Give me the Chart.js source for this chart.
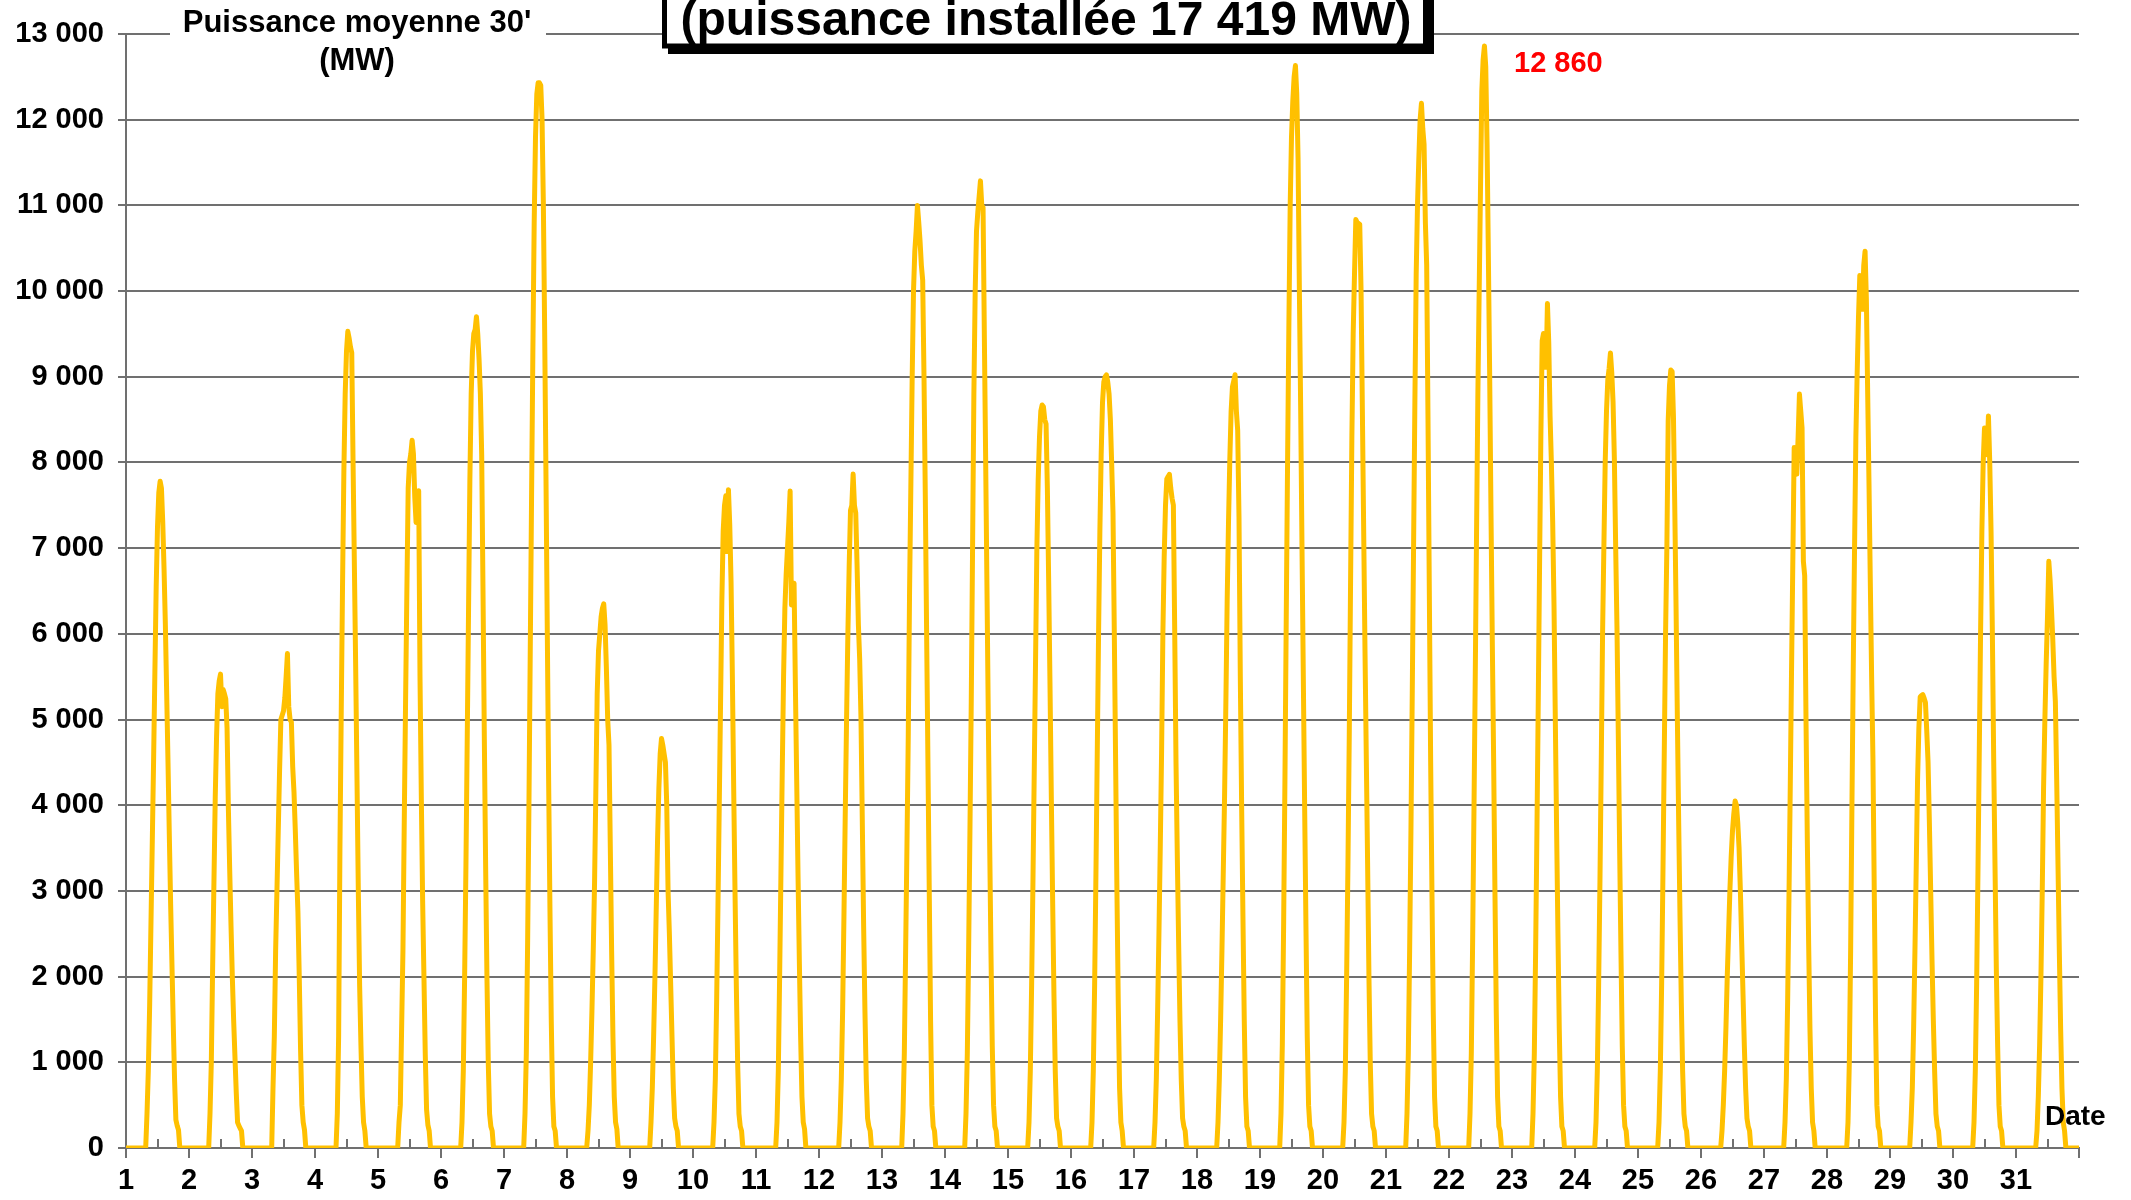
<!DOCTYPE html>
<html>
<head>
<meta charset="utf-8">
<script src="https://cdn.jsdelivr.net/npm/chart.js@4.4.0/dist/chart.umd.min.js"></script>
<style>
  html, body { margin: 0; padding: 0; background: #fff; }
  canvas { display: block; }
</style>
</head>
<body>
<canvas id="myChart" width="2131" height="1200"></canvas>
<script>
// half-hour time slots (hours) covered by each day's profile
const slotHours = [7, 7.5, 8, 8.5, 9, 9.5, 10, 10.5, 11, 11.5, 12, 12.5, 13, 13.5, 14,
  14.5, 15, 15.5, 16, 16.5, 17, 17.5, 18, 18.5, 19, 19.5, 20, 20.5, 21];

const dayNumbers = [1, 2, 3, 4, 5, 6, 7, 8, 9, 10, 11, 12, 13, 14, 15, 16,
  17, 18, 19, 20, 21, 22, 23, 24, 25, 26, 27, 28, 29, 30, 31];

// average 30' power (MW) per day, one value per slot above
const powerByDay = [
  [0,0,400,900,1650,2600,3550,4500,5550,6550,7250,7650,7780,7700,7300,6750,6100,5300,4500,3650,2850,2150,1450,800,330,260,210,0,0],
  [0,0,400,1000,2100,3100,4100,4800,5300,5450,5530,5150,5350,5300,5240,4900,3960,3250,2600,2000,1500,1070,650,300,260,230,200,0,0],
  [0,0,700,1300,2300,3000,3700,4400,5000,5050,5100,5250,5500,5770,5150,5000,4970,4450,4150,3700,3200,2750,2000,1150,500,300,210,0,0],
  [0,0,0,400,1300,3500,5100,6600,7900,8800,9300,9530,9450,9350,9280,8000,6800,5600,4300,3000,1900,1200,600,300,200,0,0,0,0],
  [0,0,300,500,1400,2300,3800,5200,6500,7700,8000,8100,8260,8100,7600,7300,7500,7670,5500,4100,2890,2000,1100,450,270,200,0,0,0],
  [0,0,300,900,2000,3300,4800,6300,7800,8800,9300,9505,9550,9700,9500,9200,8800,8090,6500,4800,3300,2000,1000,400,250,200,0,0,0],
  [0,0,400,1100,2400,4000,5800,7600,9300,10800,11800,12300,12430,12430,12400,12000,11000,9500,7800,6000,4300,2800,1500,600,250,200,0,0,0],
  [0,0,200,500,1000,1600,2300,3100,4200,5300,5800,6000,6200,6300,6350,6100,5600,5000,4700,3500,2300,1300,600,300,220,0,0,0,0],
  [0,0,300,700,1300,2000,2800,3600,4200,4600,4780,4700,4600,4500,4000,3000,2500,1900,1300,700,350,250,200,0,0,0,0,0,0],
  [0,0,300,800,1700,2800,4000,5200,6400,7200,7500,7610,6960,7683,7270,6600,5500,4200,3000,1900,1000,400,250,200,0,0,0,0,0],
  [0,0,300,900,2000,3200,4400,5500,6300,6700,7000,7300,7667,6337,6450,6590,5400,4300,3200,2200,1300,600,300,220,0,0,0,0,0],
  [0,0,300,800,1600,2700,3900,5000,6000,6800,7440,7500,7865,7500,7410,6800,6110,5700,5000,3800,2600,1600,800,350,250,200,0,0,0],
  [0,0,400,1100,2300,3500,4800,6500,7750,9000,10000,10466,10700,11000,10800,10580,10300,10127,9000,7600,6000,4500,3000,1500,500,250,200,0,0],
  [0,0,400,1100,2300,3700,5200,7000,8800,10000,10700,10920,11100,11286,11000,10975,9450,8000,6500,5000,3600,2300,1200,500,250,200,0,0,0],
  [0,0,300,900,1900,3100,4400,5700,7000,7800,8300,8600,8670,8650,8500,8450,7695,6600,5400,4100,2900,1800,900,350,250,200,0,0,0],
  [0,0,300,900,1900,3200,4600,6000,7200,8100,8700,8940,9000,9022,8940,8800,8500,7977,7410,6000,4500,3000,1700,700,300,200,0,0,0],
  [0,0,300,800,1600,2500,3500,4600,6000,6900,7500,7808,7836,7860,7700,7581,7500,6055,4500,3400,2400,1500,800,350,250,200,0,0,0],
  [0,0,300,800,1500,2300,3200,4100,5200,6400,7300,8034,8600,8882,8950,9024,8600,8373,7355,5500,4000,2700,1500,600,250,200,0,0,0],
  [0,0,400,1200,2600,4300,6200,8000,9600,11000,11800,12220,12500,12632,12300,11540,10010,8600,7000,5500,4000,2600,1300,500,250,200,0,0,0],
  [0,0,300,900,2000,3300,4800,6600,8300,9505,10200,10834,10800,10790,10777,10000,8600,7200,5800,4540,3300,2000,1000,400,250,200,0,0,0],
  [0,0,400,1100,2300,3700,5300,7000,8700,10200,11000,11540,12000,12191,11900,11710,10800,10300,8500,6500,4540,3000,1600,600,250,200,0,0,0],
  [0,0,400,1100,2400,3900,5500,7200,8800,10013,11200,12333,12700,12860,12615,11710,10400,9000,7400,5900,4540,3000,1600,600,250,200,0,0,0],
  [0,0,400,1100,2300,3700,5200,6800,8317,9420,9505,9400,9110,9855,9400,8543,8000,7300,6337,5000,3700,2500,1400,600,250,200,0,0,0],
  [0,0,300,900,1900,3100,4500,6000,7015,8000,8600,8967,9100,9278,9052,8700,8034,7000,6055,4800,3500,2300,1200,500,250,200,0,0,0],
  [0,0,300,900,1900,3200,4600,6000,7015,8486,8900,9080,9060,8543,7500,6300,5000,3800,2700,1700,900,400,250,200,0,0,0,0,0],
  [0,0,200,500,900,1400,2000,2500,3000,3400,3700,3900,4050,4000,3800,3500,3000,2400,1800,1200,700,350,250,200,0,0,0,0,0],
  [0,0,300,800,1700,2900,4200,5600,6900,8175,8000,7864,8300,8798,8600,8401,6846,6677,5000,3600,2400,1400,700,300,200,0,0,0,0],
  [0,0,300,1000,2300,4000,5600,7015,8300,9052,9700,10183,10000,9787,10300,10466,9900,8800,7750,6600,5500,4540,3000,1500,500,250,200,0,0],
  [0,0,300,700,1400,2300,3300,4300,4900,5263,5280,5291,5250,5200,4867,4500,3800,3000,2200,1500,900,400,250,200,0,0,0,0,0],
  [0,0,300,900,1900,3200,4600,6000,7200,8000,8401,8200,8090,8543,8000,7185,6000,4540,3300,2100,1200,500,250,200,0,0,0,0,0],
  [0,0,200,600,1200,2000,3000,4200,5000,5659,6200,6846,6620,6300,5942,5500,5206,4300,3300,2300,1400,700,300,200,0,0,0,0,0]
];

const titleText = '(puissance installée 17 419 MW)';
const yTitleLines = ["Puissance moyenne 30'", '(MW)'];
const xTitle = 'Date';
const maxLabel = '12 860';

const FONT = '"Liberation Sans", Arial, sans-serif';
const fmt = v => String(v).replace(/\B(?=(\d{3})+(?!\d))/g, ' ');

// build x/y points: x = day + fraction of the day
const points = [{ x: 1, y: 0 }];
dayNumbers.forEach((d, k) => {
  powerByDay[k].forEach((v, i) => points.push({ x: d + slotHours[i] / 24, y: v }));
});
points.push({ x: 32, y: 0 });

const decorations = {
  id: 'decorations',
  afterDraw(chart) {
    const ctx = chart.ctx;
    const xs = chart.scales.x;
    const ys = chart.scales.y;
    ctx.save();

    // minor ticks at mid-day, pointing up into the plot
    ctx.strokeStyle = '#707070';
    ctx.lineWidth = 2;
    for (let d = 1; d <= 31; d++) {
      const px = Math.round(xs.getPixelForValue(d + 0.5));
      ctx.beginPath();
      ctx.moveTo(px, ys.bottom);
      ctx.lineTo(px, ys.bottom - 9);
      ctx.stroke();
    }

    // y axis title (hides the top gridline behind it)
    ctx.fillStyle = '#fff';
    ctx.fillRect(170, 26, 376, 16);
    ctx.fillStyle = '#000';
    ctx.font = 'bold 31px ' + FONT;
    ctx.textAlign = 'center';
    ctx.textBaseline = 'middle';
    ctx.fillText(yTitleLines[0], 357, 23);
    ctx.fillText(yTitleLines[1], 357, 61);

    // boxed title, cut by the top edge
    ctx.fillStyle = '#000';
    ctx.fillRect(668, -10, 766, 64);
    ctx.fillStyle = '#fff';
    ctx.fillRect(662, -10, 766, 58);
    ctx.strokeStyle = '#000';
    ctx.lineWidth = 5;
    ctx.strokeRect(664.5, -20, 761, 66);
    ctx.fillStyle = '#000';
    ctx.font = 'bold 48px ' + FONT;
    ctx.textBaseline = 'alphabetic';
    ctx.fillText(titleText, 1046, 35);

    // max value label
    ctx.fillStyle = '#ff0000';
    ctx.font = 'bold 29px ' + FONT;
    ctx.textAlign = 'left';
    ctx.textBaseline = 'middle';
    ctx.fillText(maxLabel, 1514, 64);

    // x axis title
    ctx.fillStyle = '#000';
    ctx.font = 'bold 28px ' + FONT;
    ctx.fillText(xTitle, 2045, 1117);

    ctx.restore();
  }
};

new Chart(document.getElementById('myChart').getContext('2d'), {
  type: 'line',
  data: {
    datasets: [{
      data: points,
      borderColor: '#FFC000',
      borderWidth: 5,
      borderJoinStyle: 'round',
      pointRadius: 0,
      tension: 0,
      fill: false
    }]
  },
  options: {
    responsive: false,
    animation: false,
    layout: { padding: { left: 0, right: 52, top: 34, bottom: 0 } },
    plugins: {
      legend: { display: false },
      tooltip: { enabled: false },
      title: { display: false }
    },
    scales: {
      x: {
        type: 'linear',
        min: 1,
        max: 32,
        ticks: {
          stepSize: 1,
          autoSkip: false,
          maxRotation: 0,
          color: '#000',
          padding: 6,
          font: { family: FONT, weight: 'bold', size: 29 },
          callback: v => (v <= 31 ? String(v) : '')
        },
        grid: { drawOnChartArea: false, color: '#707070', lineWidth: 2, tickLength: 10 },
        border: { color: '#707070', width: 2 },
        afterFit(s) { s.height = 52; }
      },
      y: {
        min: 0,
        max: 13000,
        ticks: {
          stepSize: 1000,
          color: '#000',
          padding: 14,
          font: { family: FONT, weight: 'bold', size: 29 },
          callback: v => fmt(v)
        },
        grid: { color: '#707070', lineWidth: 2, tickLength: 8 },
        border: { color: '#707070', width: 2 },
        afterFit(s) { s.width = 126; }
      }
    }
  },
  plugins: [decorations]
});
</script>
</body>
</html>
